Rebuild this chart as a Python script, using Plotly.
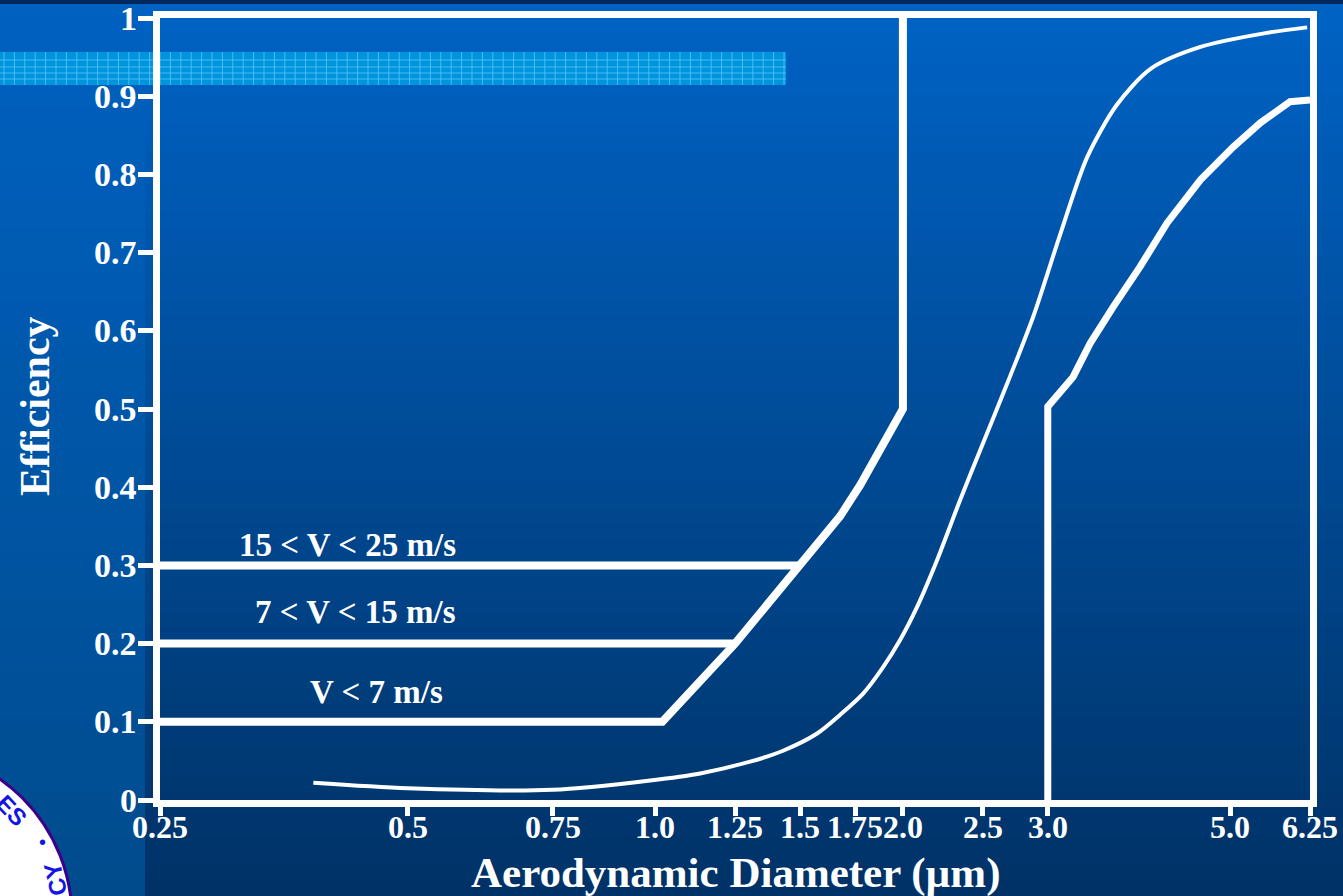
import math
import plotly.graph_objects as go

# ---------------- data ----------------
x_tick_vals = [0.25, 0.5, 0.75, 1.0, 1.25, 1.5, 1.75, 2.0, 2.5, 3.0, 5.0, 6.25]
x_tick_text = ["0.25", "0.5", "0.75", "1.0", "1.25", "1.5", "1.75", "2.0", "2.5", "3.0", "5.0", "6.25"]
y_tick_vals = [0, 0.1, 0.2, 0.3, 0.4, 0.5, 0.6, 0.7, 0.8, 0.9, 1.0]
y_tick_text = ["0", "0.1", "0.2", "0.3", "0.4", "0.5", "0.6", "0.7", "0.8", "0.9", "1"]

# lower bound band (V < 7 m/s) rising to 0.5 at 2.0 then vertical to 1
low_x = [0.25, 1.02, 1.25, 1.5, 1.586, 1.678, 1.775, 1.877, 2.0, 2.0]
low_y = [0.10, 0.10, 0.20, 0.30, 0.329, 0.363, 0.403, 0.448, 0.50, 1.00]
# 7 < V < 15 m/s plateau
mid_x = [0.25, 1.25]
mid_y = [0.20, 0.20]
# 15 < V < 25 m/s plateau
top_x = [0.25, 1.5]
top_y = [0.30, 0.30]
# right-hand bound: vertical at 3.0 then curve to 0.9
hi_x = [3.0, 3.0, 3.22, 3.378, 3.60, 3.885, 4.19, 4.6, 5.04, 5.44, 5.91, 6.25]
hi_y = [0.0, 0.503, 0.541, 0.584, 0.630, 0.682, 0.738, 0.793, 0.835, 0.866, 0.893, 0.895]
# smooth efficiency curve
s_x = [0.384, 0.5, 0.75, 0.986, 1.134, 1.304, 1.43, 1.573, 1.678, 1.789, 1.892, 1.985,
       2.081, 2.201, 2.348, 2.504, 2.63, 2.88, 3.11, 3.35, 3.64, 4.0, 4.6, 5.54, 6.2]
s_y = [0.022, 0.015, 0.013, 0.025, 0.034, 0.049, 0.063, 0.085, 0.109, 0.136, 0.170, 0.205,
       0.247, 0.307, 0.384, 0.457, 0.512, 0.618, 0.725, 0.822, 0.889, 0.935, 0.963, 0.981, 0.988]

labels = ["15 < V < 25 m/s", "7 < V < 15 m/s", "V < 7 m/s"]
label_x = [0.423, 0.432, 0.458]
label_y = [0.326, 0.240, 0.138]

# ---------------- layout geometry ----------------
W, H = 1343, 896
ML, MR, MT, MB = 160, 33, 18, 96
PW, PH = W - ML - MR, H - MT - MB


def px(x):
    return (x - ML) / PW


def py(y):
    return (H - MB - y) / PH


WHITE = "white"
SERIF = "Liberation Serif"

fig = go.Figure()

line_thick = dict(color=WHITE, width=8)
fig.add_trace(go.Scatter(x=low_x, y=low_y, mode="lines", line=line_thick, hoverinfo="skip"))
fig.add_trace(go.Scatter(x=mid_x, y=mid_y, mode="lines", line=line_thick, hoverinfo="skip"))
fig.add_trace(go.Scatter(x=top_x, y=top_y, mode="lines", line=line_thick, hoverinfo="skip"))
fig.add_trace(go.Scatter(x=hi_x, y=hi_y, mode="lines",
                         line=dict(color=WHITE, width=7), hoverinfo="skip"))
fig.add_trace(go.Scatter(x=s_x, y=s_y, mode="lines",
                         line=dict(color=WHITE, width=4, shape="spline", smoothing=0.8),
                         hoverinfo="skip"))

# ---------------- background ----------------
shapes = []


def lerp(a, b, t):
    return tuple(int(round(a[i] + (b[i] - a[i]) * t)) for i in range(3))


n = 60
main_top, main_bot = (0, 99, 197), (0, 50, 102)
left_top, left_bot = (0, 97, 193), (0, 75, 140)
y_start, y_end = 4, H
for i in range(n):
    ya = y_start + (y_end - y_start) * i / n
    yb = y_start + (y_end - y_start) * (i + 1) / n + 1
    t = (i + 0.5) / n
    c = lerp(main_top, main_bot, t)
    shapes.append(dict(type="rect", xref="paper", yref="paper", layer="below",
                       x0=px(145), x1=px(W + 5), y0=py(yb), y1=py(ya),
                       fillcolor="rgb(%d,%d,%d)" % c, line=dict(width=0)))
    c2 = lerp(left_top, left_bot, t)
    shapes.append(dict(type="rect", xref="paper", yref="paper", layer="below",
                       x0=px(-5), x1=px(145), y0=py(yb), y1=py(ya),
                       fillcolor="rgb(%d,%d,%d)" % c2, line=dict(width=0)))

# dark strip on top
shapes.append(dict(type="rect", xref="paper", yref="paper", layer="below",
                   x0=px(-5), x1=px(W + 5), y0=py(4), y1=py(-5),
                   fillcolor="rgb(0,40,92)", line=dict(width=0)))

# light blue grid stripe
shapes.append(dict(type="rect", xref="paper", yref="paper", layer="below",
                   x0=px(0), x1=px(786), y0=py(85), y1=py(52),
                   fillcolor="rgb(0,148,220)", line=dict(width=0)))
path = ""
gx = 4
while gx < 786:
    path += "M%.5f,%.5f L%.5f,%.5f " % (px(gx), py(52), px(gx), py(85))
    gx += 10.4
for gy in [60, 67, 73, 79]:
    path += "M%.5f,%.5f L%.5f,%.5f " % (px(0), py(gy), px(786), py(gy))
shapes.append(dict(type="path", xref="paper", yref="paper", layer="below", path=path,
                   line=dict(color="rgba(90,200,255,0.75)", width=1)))

# logo circle bottom-left
cx, cy, r = -98, 918, 170
shapes.append(dict(type="circle", xref="paper", yref="paper", layer="below",
                   x0=px(cx - r), x1=px(cx + r), y0=py(cy + r), y1=py(cy - r),
                   fillcolor="white", line=dict(color="rgb(60,0,140)", width=3)))

annotations = []
for t, xv, yv in zip(labels, label_x, label_y):
    annotations.append(dict(x=math.log10(xv), y=yv, xref="x", yref="y", text=t,
                            showarrow=False, xanchor="center", yanchor="middle",
                            font=dict(family=SERIF, size=33, color=WHITE, weight="bold")))

# tick labels placed on the axis scales
for v, t in zip(x_tick_vals, x_tick_text):
    annotations.append(dict(x=math.log10(v), y=py(827), xref="x", yref="paper", text=t,
                            showarrow=False, xanchor="center", yanchor="middle",
                            font=dict(family=SERIF, size=32, color=WHITE, weight="bold")))
for v, t in zip(y_tick_vals, y_tick_text):
    annotations.append(dict(x=px(139), y=v, xref="paper", yref="y", text=t,
                            showarrow=False, xanchor="right", yanchor="middle",
                            font=dict(family=SERIF, size=34, color=WHITE, weight="bold")))

annotations.append(dict(x=px(735), y=py(873), xref="paper", yref="paper",
                        text="Aerodynamic Diameter (µm)", showarrow=False,
                        xanchor="center", yanchor="middle",
                        font=dict(family=SERIF, size=43, color=WHITE, weight="bold")))
annotations.append(dict(x=px(35), y=py(406), xref="paper", yref="paper",
                        text="Efficiency", showarrow=False, textangle=-90,
                        xanchor="center", yanchor="middle",
                        font=dict(family=SERIF, size=42, color=WHITE, weight="bold")))
# slide decorations
annotations.append(dict(x=px(1245), y=py(3), xref="paper", yref="paper",
                        text="2.5", showarrow=False, xanchor="center", yanchor="bottom",
                        font=dict(family="Liberation Sans", size=64, color="rgb(200,200,200)",
                                  weight="bold")))
annotations.append(dict(x=px(12), y=py(810), xref="paper", yref="paper", text="ES",
                        showarrow=False, textangle=47, xanchor="center", yanchor="middle",
                        font=dict(family="Liberation Sans", size=24, color="rgb(20,20,230)",
                                  weight="bold")))
annotations.append(dict(x=px(42), y=py(842), xref="paper", yref="paper", text="•",
                        showarrow=False, xanchor="center", yanchor="middle",
                        font=dict(family="Liberation Sans", size=20, color="rgb(20,20,230)")))
annotations.append(dict(x=px(55), y=py(880), xref="paper", yref="paper", text="CY",
                        showarrow=False, textangle=-104, xanchor="center", yanchor="middle",
                        font=dict(family="Liberation Sans", size=24, color="rgb(20,20,230)",
                                  weight="bold")))

fig.update_layout(
    width=W, height=H,
    margin=dict(l=ML, r=MR, t=MT, b=MB, autoexpand=False),
    paper_bgcolor="rgb(0,70,140)",
    plot_bgcolor="rgba(0,0,0,0)",
    showlegend=False,
    shapes=shapes,
    annotations=annotations,
    xaxis=dict(type="log", range=[math.log10(0.25), math.log10(6.25)],
               tickvals=x_tick_vals, showticklabels=False, automargin=False,
               ticks="outside", ticklen=9, tickwidth=5, tickcolor=WHITE,
               showline=True, linewidth=7, linecolor=WHITE, mirror=True,
               showgrid=False, zeroline=False, fixedrange=True),
    yaxis=dict(range=[0, 1], tickvals=y_tick_vals, showticklabels=False, automargin=False,
               ticks="outside", ticklen=15, tickwidth=5, tickcolor=WHITE,
               showline=True, linewidth=7, linecolor=WHITE, mirror=True,
               showgrid=False, zeroline=False, fixedrange=True),
)

fig.write_html("out.html", config={"displayModeBar": False},
               post_script="document.body.style.margin='0';document.body.style.overflow='hidden';")
